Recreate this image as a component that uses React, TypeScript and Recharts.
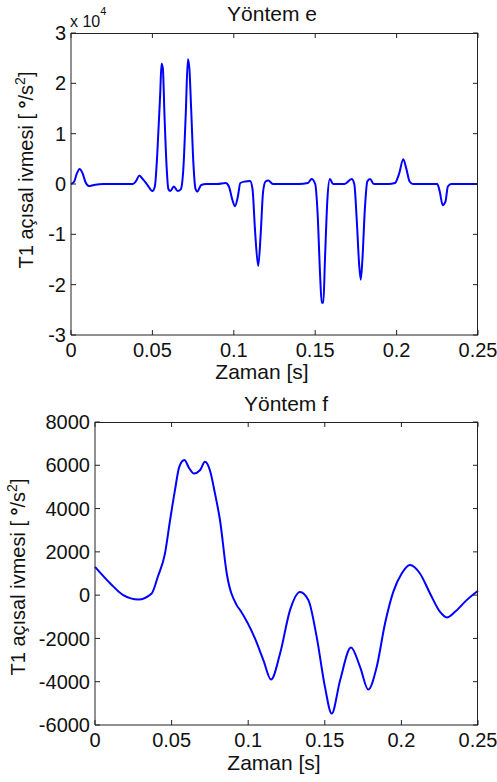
import React from 'react';
import { LineChart, Line, XAxis, YAxis } from 'recharts';

// Yöntem e: time [s] and acceleration (x 10^4 °/s²)
const topTime = [
  0, 0.002, 0.0035, 0.0053, 0.007, 0.009, 0.011, 0.014, 0.02, 0.03, 0.038, 0.04, 0.042, 0.044, 0.047,
  0.05, 0.0515, 0.053, 0.0548, 0.0556, 0.0564, 0.0575, 0.0588, 0.0598, 0.061, 0.0632, 0.0655, 0.0675,
  0.069, 0.0705, 0.0718, 0.0727, 0.0738, 0.0752, 0.0765, 0.0775, 0.08, 0.083, 0.09, 0.095, 0.097, 0.099,
  0.1007, 0.1025, 0.104, 0.107, 0.11, 0.1115, 0.113, 0.115, 0.1165, 0.118, 0.1195, 0.1212, 0.124, 0.13,
  0.14, 0.1455, 0.1478, 0.15, 0.1515, 0.153, 0.154, 0.155, 0.156, 0.1575, 0.159, 0.161, 0.168, 0.1724,
  0.174, 0.1755, 0.177, 0.178, 0.179, 0.1805, 0.182, 0.1837, 0.186, 0.195, 0.199, 0.2015, 0.2041, 0.206,
  0.208, 0.21, 0.22, 0.225, 0.2265, 0.2283, 0.23, 0.2315, 0.2335, 0.24, 0.25,
];
const topAccel = [
  0, 0.05, 0.2, 0.3, 0.22, 0.03, -0.04, -0.02, 0, 0, 0, 0.06, 0.17, 0.1, -0.02,
  -0.14, -0.05, 0.6, 1.8, 2.39, 2.3, 1.3, 0.3, -0.1, -0.14, -0.05, -0.14, -0.1,
  0.3, 1.4, 2.48, 2.3, 1.5, 0.4, -0.1, -0.15, -0.02, 0, 0, 0.02, -0.05, -0.3,
  -0.44, -0.25, 0.02, 0.05, 0.06, -0.1, -0.9, -1.63, -1.0, -0.15, 0.05, 0.07, 0, 0,
  0, 0.02, 0.1, 0, -0.6, -1.8, -2.36, -2.36, -1.5, -0.3, 0.1, 0, 0, 0.1,
  0, -0.7, -1.6, -1.9, -1.5, -0.5, 0.05, 0.1, 0, 0, 0.02, 0.2, 0.49, 0.3,
  0.05, 0, 0, 0, -0.15, -0.42, -0.35, -0.05, 0, 0, 0,
];

// Yöntem f: time [s] and acceleration (°/s²)
const botTime = [
  0, 0.01, 0.0184, 0.0283, 0.037, 0.041, 0.0457, 0.049, 0.0522, 0.055, 0.0583, 0.0616, 0.0646, 0.0685,
  0.0718, 0.075, 0.0783, 0.0816, 0.086, 0.0925, 0.0947, 0.1044, 0.1099, 0.1149, 0.1208, 0.1273, 0.1338,
  0.1393, 0.1447, 0.1501, 0.1545, 0.16, 0.1671, 0.173, 0.1784, 0.1839, 0.1893, 0.1947, 0.2002, 0.2056,
  0.2121, 0.2187, 0.2252, 0.2296, 0.235, 0.2426, 0.25,
];
const botAccel = [
  1310, 540, 0, -200, 80, 850, 1930, 3460, 4850, 5930, 6240, 5850, 5620, 5770,
  6160, 5770, 4700, 3460, 1000, -460, -690, -2000, -3000, -3900, -2700, -690, 150,
  -230, -1930, -4240, -5470, -3930, -2420, -3310, -4360, -3310, -1310, 150, 1000, 1390,
  1000, 80, -770, -1030, -770, -230, 200,
];

const xTicks = [0, 0.05, 0.1, 0.15, 0.2, 0.25];
const topYTicks = [-3, -2, -1, 0, 1, 2, 3];
const botYTicks = [-6000, -4000, -2000, 0, 2000, 4000, 6000, 8000];

const topData = topTime.map((t, i) => ({ t, v: topAccel[i] }));
const botData = botTime.map((t, i) => ({ t, v: botAccel[i] }));

const font = '"Liberation Sans", Arial, sans-serif';
const INK = '#222';
const TICK = 5;
const Y_W = 60;
const X_H = 30;
const W = 497;

// panel layout (offsetTop is where the chart sits on the page)
const topPanel = { offsetTop: 0, height: 390, yDomain: [-3, 3], yTicks: topYTicks, margin: { top: 33, right: 19, left: 11, bottom: 25 } };
const botPanel = { offsetTop: 390, height: 392, yDomain: [-6000, 8000], yTicks: botYTicks, margin: { top: 32, right: 19, left: 35, bottom: 27 } };

const Panel = ({ data, cfg }: any) => (
  <LineChart width={W} height={cfg.height} data={data} margin={cfg.margin}>
    <XAxis
      dataKey="t"
      type="number"
      domain={[0, 0.25]}
      ticks={xTicks}
      tick={{ fontSize: 20, fill: '#111', fontFamily: font }}
      tickSize={-TICK}
      tickMargin={13}
      height={X_H}
      interval={0}
      axisLine={{ stroke: INK }}
      tickLine={{ stroke: INK }}
    />
    <YAxis
      type="number"
      domain={cfg.yDomain}
      ticks={cfg.yTicks}
      tick={{ fontSize: 20, fill: '#111', fontFamily: font }}
      tickSize={-TICK}
      tickMargin={10}
      width={Y_W}
      interval={0}
      axisLine={{ stroke: INK }}
      tickLine={{ stroke: INK }}
    />
    <Line
      type="monotone"
      dataKey="v"
      stroke="#0000ff"
      strokeWidth={2}
      dot={false}
      isAnimationActive={false}
    />
  </LineChart>
);

// top and right edges of the MATLAB-style box, with mirrored inward ticks
const Frame = ({ cfg }: any) => {
  const left = cfg.margin.left + Y_W;
  const right = W - cfg.margin.right;
  const top = cfg.offsetTop + cfg.margin.top;
  const bottom = cfg.offsetTop + cfg.height - cfg.margin.bottom - X_H;
  const [y0, y1] = cfg.yDomain;
  const xMax = xTicks[xTicks.length - 1];
  const sx = (t: number) => left + (t / xMax) * (right - left);
  const sy = (v: number) => bottom - ((v - y0) / (y1 - y0)) * (bottom - top);
  return (
    <g stroke={INK} strokeWidth={1}>
      <line x1={left} x2={right} y1={top + 0.5} y2={top + 0.5} />
      <line x1={right - 0.5} x2={right - 0.5} y1={top} y2={bottom} />
      {xTicks.map((t) => (
        <line key={`x${t}`} x1={sx(t)} x2={sx(t)} y1={top} y2={top + TICK} />
      ))}
      {cfg.yTicks.map((v: number) => (
        <line key={`y${v}`} x1={right} x2={right - TICK} y1={sy(v)} y2={sy(v)} />
      ))}
    </g>
  );
};

const YLabel = ({ x, y }: { x: number; y: number }) => (
  <text
    transform={`translate(${x},${y}) rotate(-90)`}
    textAnchor="middle"
    fontSize={20}
    fill="#111"
    fontFamily={font}
  >
    T1 açısal ivmesi [ <tspan fontWeight="bold">°</tspan>/s<tspan dy={-8} fontSize={14}>2</tspan>
    <tspan dy={8}>]</tspan>
  </text>
);

export default function App() {
  return (
    <div
      style={{
        position: 'absolute',
        left: 0,
        top: 0,
        width: W,
        height: 782,
        background: '#fff',
        fontFamily: font,
      }}
    >
      <div style={{ position: 'absolute', left: 0, top: topPanel.offsetTop }}>
        <Panel data={topData} cfg={topPanel} />
      </div>
      <div style={{ position: 'absolute', left: 0, top: botPanel.offsetTop }}>
        <Panel data={botData} cfg={botPanel} />
      </div>
      <svg
        width={W}
        height={782}
        style={{ position: 'absolute', left: 0, top: 0, pointerEvents: 'none' }}
      >
        <Frame cfg={topPanel} />
        <Frame cfg={botPanel} />

        <text x={272} y={21} textAnchor="middle" fontSize={21} fill="#111" fontFamily={font}>
          Yöntem e
        </text>
        <text x={70} y={27} fontSize={16} fill="#111" fontFamily={font}>
          x 10<tspan dy={-12} fontSize={11}>4</tspan>
        </text>
        <text x={262} y={379} textAnchor="middle" fontSize={21} fill="#111" fontFamily={font}>
          Zaman [s]
        </text>
        <YLabel x={33} y={170} />

        <text x={286} y={411} textAnchor="middle" fontSize={21} fill="#111" fontFamily={font}>
          Yöntem f
        </text>
        <text x={274} y={770} textAnchor="middle" fontSize={21} fill="#111" fontFamily={font}>
          Zaman [s]
        </text>
        <YLabel x={25} y={577} />
      </svg>
    </div>
  );
}
